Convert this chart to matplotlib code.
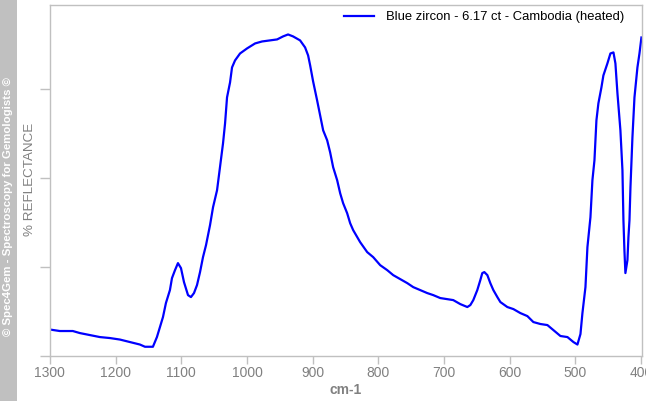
import matplotlib
matplotlib.use("Agg")
import matplotlib.pyplot as plt
from matplotlib.patches import Rectangle

plt.rcParams['font.family'] = ['Liberation Sans', 'DejaVu Sans']

wavenumber = [1300.0, 1284.8, 1265.0, 1254.3, 1239.1, 1223.8, 1208.6, 1193.3, 1178.1, 1162.9,
              1155.2, 1143.1, 1137.0, 1132.4, 1127.8, 1123.3, 1117.2, 1114.1, 1109.5, 1105.0,
              1100.4, 1095.8, 1089.7, 1085.2, 1080.6, 1076.0, 1071.4, 1066.9, 1062.3, 1056.2,
              1051.6, 1045.5, 1041.0, 1036.4, 1033.3, 1030.3, 1025.7, 1022.7, 1018.1, 1010.5,
              999.8, 987.6, 977.0, 964.8, 954.1, 945.0, 937.4, 929.8, 919.1, 911.5,
              906.9, 903.8, 899.3, 893.2, 888.6, 884.0, 877.9, 873.4, 868.8, 862.7,
              858.1, 853.6, 847.5, 842.9, 838.3, 832.2, 827.7, 817.0, 807.8, 797.2,
              786.5, 777.4, 766.7, 756.0, 746.9, 736.2, 725.6, 716.4, 705.8, 695.1,
              686.0, 675.3, 664.6, 660.0, 655.5, 649.4, 644.8, 641.8, 638.7, 634.1,
              629.6, 625.0, 618.9, 614.3, 603.7, 594.5, 583.9, 573.2, 564.1, 553.4,
              542.7, 533.6, 522.9, 512.2, 503.1, 497.0, 492.4, 489.4, 484.8, 481.8,
              477.2, 474.2, 471.1, 468.1, 465.1, 460.5, 457.5, 451.4, 446.8, 442.2,
              439.2, 436.1, 431.6, 428.5, 427.0, 425.5, 424.0, 420.9, 419.4, 417.8,
              416.3, 413.3, 410.2, 405.7, 402.6, 399.6]
reflectance = [2.98, 2.81, 2.81, 2.58, 2.36, 2.13, 2.02, 1.85, 1.57, 1.29,
               1.04, 1.04, 2.13, 3.26, 4.38, 5.96, 7.42, 8.76, 9.66, 10.45,
               9.89, 8.31, 6.85, 6.63, 7.08, 7.98, 9.44, 11.12, 12.47, 14.72,
               16.74, 18.65, 21.24, 23.93, 26.18, 29.10, 30.79, 32.47, 33.26, 34.04,
               34.61, 35.17, 35.39, 35.51, 35.62, 35.96, 36.18, 35.96, 35.51, 34.72,
               33.82, 32.70, 30.90, 28.76, 27.08, 25.39, 24.27, 22.92, 21.24, 19.78,
               18.31, 17.19, 16.07, 14.94, 14.16, 13.37, 12.81, 11.69, 11.12, 10.22,
               9.66, 9.10, 8.65, 8.20, 7.75, 7.42, 7.08, 6.85, 6.52, 6.40,
               6.29, 5.84, 5.51, 5.73, 6.29, 7.42, 8.54, 9.33, 9.44, 9.10,
               8.20, 7.42, 6.63, 6.07, 5.51, 5.28, 4.83, 4.49, 3.82, 3.60,
               3.48, 2.92, 2.25, 2.13, 1.57, 1.29, 2.47, 4.83, 7.75, 12.25,
               15.62, 19.78, 22.02, 26.52, 28.43, 30.22, 31.57, 32.92, 34.04, 34.16,
               32.92, 29.55, 25.39, 20.90, 15.28, 11.91, 9.33, 10.79, 13.37, 15.28,
               18.99, 24.61, 29.10, 32.47, 34.04, 35.84]

x_ticks = [1300, 1200, 1100, 1000, 900, 800, 700, 600, 500, 400]
y_ticks = [0, 10, 20, 30]
series_label = "Blue zircon - 6.17 ct - Cambodia (heated)"
x_label = "cm-1"
y_label = "% REFLECTANCE"
watermark = "© Spec4Gem - Spectroscopy for Gemologists ©"

W, H = 646, 401
fig = plt.figure(figsize=(W / 100, H / 100), dpi=100)
fig.patch.set_facecolor('white')

# grey strip on the left
fig.patches.append(Rectangle((0, 0), 17 / W, 1, transform=fig.transFigure,
                             facecolor='#c0c0c0', edgecolor='none', zorder=0))
fig.text(8.5 / W, 1 - 207 / H, watermark, rotation=90, color='white',
         fontsize=8.2, fontweight='bold', ha='center', va='center')

left, right, top, bottom = 49.5, 641.5, 4.5, 356
ax = fig.add_axes([left / W, (H - bottom) / H, (right - left) / W, (bottom - top) / H])

ax.plot(wavenumber, reflectance, color='#0000ff', lw=1.6, label=series_label)

ax.set_xlim(1300.5, 399.5)
ax.set_ylim(0, 39.55)
ax.set_xticks(x_ticks)
ax.set_yticks(y_ticks)
ax.set_yticklabels([])

gray = '#c0c0c0'
for s in ax.spines.values():
    s.set_color(gray)
    s.set_linewidth(1)

ax.tick_params(axis='y', direction='out', length=7, color=gray, width=1)
ax.tick_params(axis='x', direction='out', length=6, color=gray, width=1,
               labelsize=10, labelcolor='#808080', pad=1)

ax.set_xlabel(x_label, fontsize=10, fontweight='bold', color='#808080', labelpad=2)
fig.text(30 / W, 1 - 179 / H, y_label, rotation=90, fontsize=9.6, color='#808080',
         ha='center', va='center')

leg = ax.legend(loc='upper right', bbox_to_anchor=(624 / W, 1 - 11 / H),
                bbox_transform=fig.transFigure, frameon=False, fontsize=9.4,
                handlelength=2.3, handletextpad=0.92, borderpad=0, borderaxespad=0)

fig.savefig('out.png', dpi=100)
